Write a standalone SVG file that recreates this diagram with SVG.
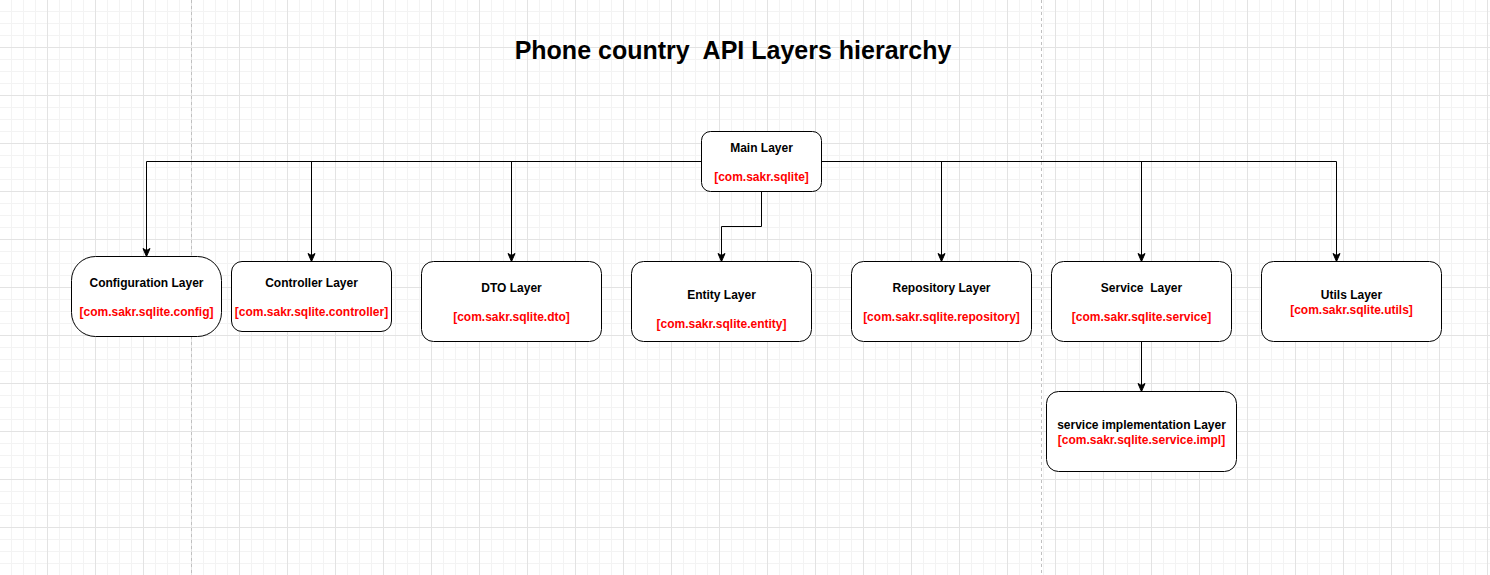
<svg xmlns="http://www.w3.org/2000/svg" width="1490" height="575" viewBox="0 0 1490 575" xml:space="preserve">
  <defs>
    <pattern id="grid" x="0" y="0" width="48" height="48" patternUnits="userSpaceOnUse">
      <path d="M11.5 0V48M23.5 0V48M35.5 0V48M0 11.5H48M0 23.5H48M0 35.5H48" stroke="#f3f3f3" stroke-width="1" fill="none"/>
      <path d="M47.5 0V48M0 47.5H48" stroke="#e3e3e3" stroke-width="1" fill="none"/>
    </pattern>
    <marker id="arrow" viewBox="-9 -5 10 10" markerWidth="10" markerHeight="10" refX="0" refY="0" orient="auto" markerUnits="userSpaceOnUse">
      <path d="M-8 -3.5 L0 0 L-8 3.5 L-6 0 Z" fill="#000" stroke="#000" stroke-width="1" stroke-linejoin="miter"/>
    </marker>
    <style>
      .box { fill: #ffffff; stroke: #000000; stroke-width: 1; }
      .edge { fill: none; stroke: #000000; stroke-width: 1; marker-end: url(#arrow); }
      .lbl { font-family: "Liberation Sans", Arial, Helvetica, sans-serif; font-size: 12px; font-weight: bold; fill: #000000; text-anchor: middle; white-space: pre; }
      .pkg { font-family: "Liberation Sans", Arial, Helvetica, sans-serif; font-size: 12px; font-weight: bold; fill: #ff0000; text-anchor: middle; white-space: pre; }
      .title { font-family: "Liberation Sans", Arial, Helvetica, sans-serif; font-size: 25px; font-weight: bold; fill: #000000; text-anchor: middle; white-space: pre; }
      .page { stroke: #c0c0c0; stroke-width: 1; stroke-dasharray: 3 3; fill: none; }
    </style>
  </defs>

  <rect x="0" y="0" width="1490" height="575" fill="#ffffff"/>
  <rect x="0" y="0" width="1490" height="575" fill="url(#grid)"/>
  <path class="page" d="M191.5 0V575M1041.5 0V575"/>

  <text class="title" x="733" y="58.5">Phone country  API Layers hierarchy</text>

  <g id="connectors">
    <path class="edge" d="M701.5 161.5H146.5V256.5"/>
    <path class="edge" d="M701.5 161.5H311.5V261.5"/>
    <path class="edge" d="M701.5 161.5H511.5V261.5"/>
    <path class="edge" d="M761.5 191.5V226.5H721.5V261.5"/>
    <path class="edge" d="M821.5 161.5H941.5V261.5"/>
    <path class="edge" d="M821.5 161.5H1141.5V261.5"/>
    <path class="edge" d="M821.5 161.5H1336.5V261.5"/>
    <path class="edge" d="M1141.5 341.5V391.5"/>
  </g>

  <g id="main-layer">
    <rect class="box" x="701.5" y="131.5" width="120" height="60" rx="9" ry="9"/>
    <text class="lbl" x="761.5" y="152">Main Layer</text>
    <text class="pkg" x="761.5" y="180.8">[com.sakr.sqlite]</text>
  </g>

  <g id="configuration-layer">
    <rect class="box" x="71.5" y="256.5" width="150" height="80" rx="24" ry="24"/>
    <text class="lbl" x="146.5" y="287">Configuration Layer</text>
    <text class="pkg" x="146.5" y="315.8">[com.sakr.sqlite.config]</text>
  </g>

  <g id="controller-layer">
    <rect class="box" x="231.5" y="261.5" width="160" height="70" rx="10.5" ry="10.5"/>
    <text class="lbl" x="311.5" y="287">Controller Layer</text>
    <text class="pkg" x="311.5" y="315.8">[com.sakr.sqlite.controller]</text>
  </g>

  <g id="dto-layer">
    <rect class="box" x="421.5" y="261.5" width="180" height="80" rx="12" ry="12"/>
    <text class="lbl" x="511.5" y="292">DTO Layer</text>
    <text class="pkg" x="511.5" y="320.8">[com.sakr.sqlite.dto]</text>
  </g>

  <g id="entity-layer">
    <rect class="box" x="631.5" y="261.5" width="180" height="80" rx="12" ry="12"/>
    <text class="lbl" x="721.5" y="299.2">Entity Layer</text>
    <text class="pkg" x="721.5" y="328">[com.sakr.sqlite.entity]</text>
  </g>

  <g id="repository-layer">
    <rect class="box" x="851.5" y="261.5" width="180" height="80" rx="12" ry="12"/>
    <text class="lbl" x="941.5" y="292">Repository Layer</text>
    <text class="pkg" x="941.5" y="320.8">[com.sakr.sqlite.repository]</text>
  </g>

  <g id="service-layer">
    <rect class="box" x="1051.5" y="261.5" width="180" height="80" rx="12" ry="12"/>
    <text class="lbl" x="1141.5" y="292">Service  Layer</text>
    <text class="pkg" x="1141.5" y="320.8">[com.sakr.sqlite.service]</text>
  </g>

  <g id="utils-layer">
    <rect class="box" x="1261.5" y="261.5" width="180" height="80" rx="12" ry="12"/>
    <text class="lbl" x="1351.5" y="299.2">Utils Layer</text>
    <text class="pkg" x="1351.5" y="313.6">[com.sakr.sqlite.utils]</text>
  </g>

  <g id="service-impl-layer">
    <rect class="box" x="1046.5" y="391.5" width="190" height="80" rx="12" ry="12"/>
    <text class="lbl" x="1141.5" y="429.2">service implementation Layer</text>
    <text class="pkg" x="1141.5" y="443.6">[com.sakr.sqlite.service.impl]</text>
  </g>
</svg>
